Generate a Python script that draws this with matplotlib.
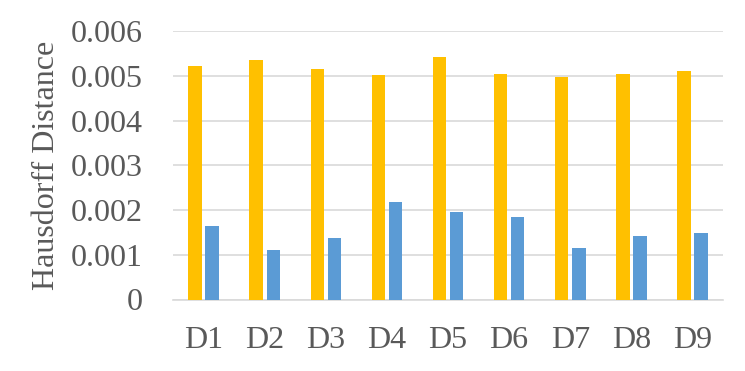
import numpy as np
import matplotlib.pyplot as plt

# values
labels = ['D1', 'D2', 'D3', 'D4', 'D5', 'D6', 'D7', 'D8', 'D9']
orange_vals = [0.00522, 0.00535, 0.00514, 0.00501, 0.00541, 0.00503, 0.00497, 0.00503, 0.00510]
blue_vals = [0.00165, 0.00111, 0.00138, 0.00218, 0.00196, 0.00185, 0.00114, 0.00143, 0.00148]
yticks = [0, 0.001, 0.002, 0.003, 0.004, 0.005, 0.006]
ytick_labels = ['0', '0.001', '0.002', '0.003', '0.004', '0.005', '0.006']

plt.rcParams['font.family'] = ['Liberation Serif', 'DejaVu Serif']
text_color = '#595959'

fig = plt.figure(figsize=(7.45, 3.71), dpi=100)
ax = fig.add_axes([173 / 745, 1 - 299.5 / 371, 550 / 745, 268.5 / 371])

x = np.arange(len(labels))
w = 0.22
ax.bar(x - 0.14, orange_vals, w, color='#FFC000', zorder=3)
ax.bar(x + 0.14, blue_vals, w, color='#5B9BD5', zorder=3)

ax.set_xlim(-0.5, len(labels) - 0.5)
ax.set_ylim(0, 0.006)
ax.set_yticks(yticks)
ax.set_yticklabels(ytick_labels)
ax.set_xticks(x)
ax.set_xticklabels(labels)
ax.tick_params(axis='both', length=0, labelsize=23, labelcolor=text_color)
ax.tick_params(axis='y', pad=22)
ax.tick_params(axis='x', pad=19)

ax.grid(axis='y', color='#d9d9d9', linewidth=1.2, zorder=0)
for s in ['top', 'right', 'left']:
    ax.spines[s].set_visible(False)
ax.spines['bottom'].set_color('#d9d9d9')
ax.spines['bottom'].set_linewidth(1.2)

ax.set_ylabel('Hausdorff Distance', fontsize=23, color=text_color, labelpad=7)

fig.savefig('out.png', dpi=100)
